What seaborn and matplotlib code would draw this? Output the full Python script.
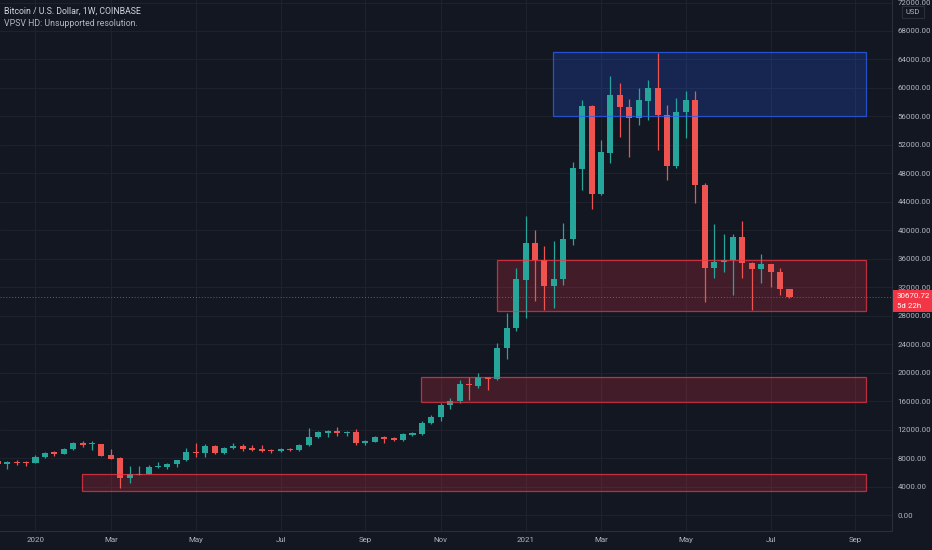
import numpy as np
import pandas as pd
import matplotlib
matplotlib.use("Agg")
import matplotlib.pyplot as plt
import seaborn as sns
from matplotlib.patches import Rectangle

# weekly candles, Coinbase BTC/USD, week of 2019-12-09 .. 2021-07-19
weeks = pd.date_range("2019-12-09", periods=85, freq="W-MON")

opens = [7590, 7100, 7510, 7390, 7330, 8120, 8810, 8580, 9270, 10160,
         9930, 9970, 8430, 7970, 5240, 5640, 5790, 6790, 6790, 7120,
         7700, 8890, 8700, 9690, 8700, 9450, 9650, 9380, 9270, 9140,
         9000, 9250, 9160, 9840, 11000, 11580, 11840, 11480, 11700, 10160,
         10320, 10920, 10780, 10560, 11250, 11400, 12970, 13720, 15400, 15950,
         18400, 18180, 19350, 19150, 23460, 26270, 33020, 38210, 35820, 32170,
         33160, 38770, 48600, 57500, 45100, 50900, 59000, 57360, 55730, 58200,
         59950, 56200, 49030, 56660, 58300, 46360, 34740, 35590, 35820, 39010,
         35450, 34560, 35220, 34180, 31750]
highs = [7700, 7530, 7700, 7560, 8460, 8900, 9030, 9380, 10200, 10440,
         10440, 10000, 9230, 8190, 6930, 6930, 6960, 7490, 7300, 7770,
         9400, 10070, 9930, 9850, 9600, 10100, 9970, 9800, 9830, 9320,
         9410, 9350, 9990, 12180, 11800, 12000, 12410, 11800, 12040, 10560,
         11100, 11040, 10960, 11490, 11700, 13210, 14050, 15700, 16500, 18960,
         19430, 19950, 19430, 24210, 28380, 34700, 42000, 40040, 37790, 38540,
         41020, 49640, 58300, 57600, 52680, 61680, 60650, 58400, 59950, 61110,
         64950, 57600, 58530, 59610, 59610, 46600, 40880, 39480, 39480, 41350,
         35500, 36670, 35300, 34660, 31800]
lows = [7050, 6430, 7050, 6870, 7330, 8000, 8250, 8530, 9100, 9600,
        9130, 8250, 7850, 3860, 4440, 5600, 5700, 6560, 6500, 6800,
        7650, 8120, 8200, 8600, 8630, 9270, 9030, 8930, 8810, 8780,
        8900, 9000, 9030, 9740, 10800, 11000, 11100, 11100, 9800, 9850,
        10210, 10140, 10420, 10440, 11150, 11240, 12750, 13150, 14850, 15800,
        16200, 17840, 17600, 19000, 21900, 25900, 27700, 30000, 28800, 29100,
        32310, 37900, 45660, 43000, 44960, 49450, 53150, 50250, 54800, 55490,
        51280, 47060, 48800, 52960, 43790, 29880, 33250, 34180, 30910, 33250,
        28800, 32640, 32070, 30910, 30420]
closes = [7160, 7490, 7330, 7330, 8120, 8680, 8580, 9270, 10160, 9830,
          10070, 8330, 7870, 5200, 5760, 5790, 6790, 6880, 7160, 7730,
          8890, 8700, 9690, 8700, 9450, 9690, 9340, 9170, 9030, 8980,
          9250, 9160, 9840, 11000, 11620, 11800, 11480, 11700, 10160, 10400,
          10920, 10700, 10600, 11340, 11480, 12970, 13810, 15450, 15950, 18400,
          18200, 19350, 19150, 23460, 26270, 33160, 38210, 35820, 32170, 33160,
          38770, 48700, 57500, 45100, 50960, 59000, 57360, 55730, 58300, 59950,
          56200, 49030, 56660, 58300, 46360, 34740, 35590, 35820, 39010, 35450,
          34560, 35220, 34180, 31750, 30670.72]

# drawn zones: start week, end week, low, high
zone_starts = ["2021-01-25", "2020-12-14", "2020-10-19", "2020-02-10"]
zone_ends = ["2021-09-13", "2021-09-13", "2021-09-13", "2021-09-13"]
zone_lows = [56100, 28660, 15830, 3410]
zone_highs = [65000, 35820, 19430, 5760]
zone_kinds = ["blue", "red", "red", "red"]

last_price = 30670.72
price_ticks = list(range(0, 72001, 4000))

BG = "#131722"
GRID = "#1e222d"
TXT = "#b2b5be"
UP = "#26a69a"
DOWN = "#ef5350"

sns.set_theme(style="dark", rc={"axes.facecolor": BG, "figure.facecolor": BG,
                                "axes.edgecolor": "#2a2e39", "grid.color": GRID})
plt.rcParams["font.family"] = ["Roboto", "DejaVu Sans"]

W, H = 932, 550
fig = plt.figure(figsize=(W / 100, H / 100), dpi=100)
plot_right, plot_bottom = 892, 531
ax = fig.add_axes([0, (H - plot_bottom) / H, plot_right / W, plot_bottom / H])

step, px0 = 9.425, -2.2  # pixel spacing of weekly bars, pixel of the first bar
ax.set_xlim((0 - px0) / step, (plot_right - px0) / step)
ax.set_ylim((515 - plot_bottom) / 0.007118, 515 / 0.007118)

x = np.arange(len(weeks))
o, h, l, c = map(np.array, (opens, highs, lows, closes))
colors = np.where(c >= o, UP, DOWN)
body_low = np.minimum(o, c)
body_h = np.maximum(np.abs(c - o), 110)

# zones
for s, e, lo, hi, kind in zip(zone_starts, zone_ends, zone_lows, zone_highs, zone_kinds):
    xs = (pd.Timestamp(s) - weeks[0]).days / 7 - 0.05
    xe = (pd.Timestamp(e) - weeks[0]).days / 7 + 0.1
    col = "#2962ff" if kind == "blue" else "#f23645"
    ax.add_patch(Rectangle((xs, lo), xe - xs, hi - lo, facecolor=col, alpha=0.21,
                           edgecolor="none", zorder=1))
    ax.add_patch(Rectangle((xs, lo), xe - xs, hi - lo, facecolor="none",
                           edgecolor=col, alpha=0.75, lw=0.9, zorder=4))

# candles
ax.vlines(x, l, h, colors=colors, lw=0.9, zorder=2)
ax.bar(x, body_h, bottom=body_low, width=0.64, color=colors, linewidth=0, zorder=3)

# last price line
ax.axhline(last_price, color="#f23645", lw=0.7, ls=(0, (1, 2)), alpha=0.85, zorder=2)

# time axis
axis_weeks = pd.date_range("2019-12-09", "2021-10-04", freq="W-MON")
tick_pos, tick_lab = [], []
for i in range(1, len(axis_weeks)):
    d = axis_weeks[i]
    if d.month != axis_weeks[i - 1].month and d.month % 2 == 1:
        tick_pos.append(i)
        tick_lab.append(str(d.year) if d.month == 1 else d.strftime("%b"))
ax.set_xticks(tick_pos)
ax.set_xticklabels(tick_lab)

# price axis
ax.yaxis.tick_right()
ax.set_yticks(price_ticks)
ax.set_yticklabels([f"{v:.2f}" for v in price_ticks])
ax.tick_params(axis="both", length=0, labelsize=5.7, labelcolor=TXT)
ax.tick_params(axis="y", pad=4.0)
ax.tick_params(axis="x", pad=4.5)
ax.grid(True, color=GRID, lw=0.8)
for side in ("top", "left"):
    ax.spines[side].set_visible(False)
for side in ("right", "bottom"):
    ax.spines[side].set_color("#2a2e39")
    ax.spines[side].set_linewidth(0.8)

# legend texts top-left
fig.text(4 / W, 1 - 11 / H, "Bitcoin / U.S. Dollar, 1W, COINBASE", color="#d1d4dc",
         fontsize=6.3, va="center", ha="left")
fig.text(4 / W, 1 - 23 / H, "VPSV HD: Unsupported resolution.", color=TXT,
         fontsize=6.3, va="center", ha="left")

# last price label on the axis
fig.patches.append(Rectangle((893 / W, 1 - 312 / H), 39 / W, 22 / H, transform=fig.transFigure,
                             facecolor="#f23645", edgecolor="none", zorder=5))
fig.text(897 / W, 1 - 296.5 / H, f"{last_price:.2f}", color="white", fontsize=5.7,
         va="center", ha="left", zorder=6)
fig.text(897 / W, 1 - 306.5 / H, "5d 22h", color="white", fontsize=5.7,
         va="center", ha="left", zorder=6)

# currency box
fig.patches.append(Rectangle((902 / W, 1 - 18 / H), 22 / W, 12 / H, transform=fig.transFigure,
                             facecolor=BG, edgecolor="#2a2e39", lw=0.8, zorder=5))
fig.text(913 / W, 1 - 12 / H, "USD", color=TXT, fontsize=5.4, va="center",
         ha="center", zorder=6)

fig.savefig("out.png", dpi=100, facecolor=BG)
